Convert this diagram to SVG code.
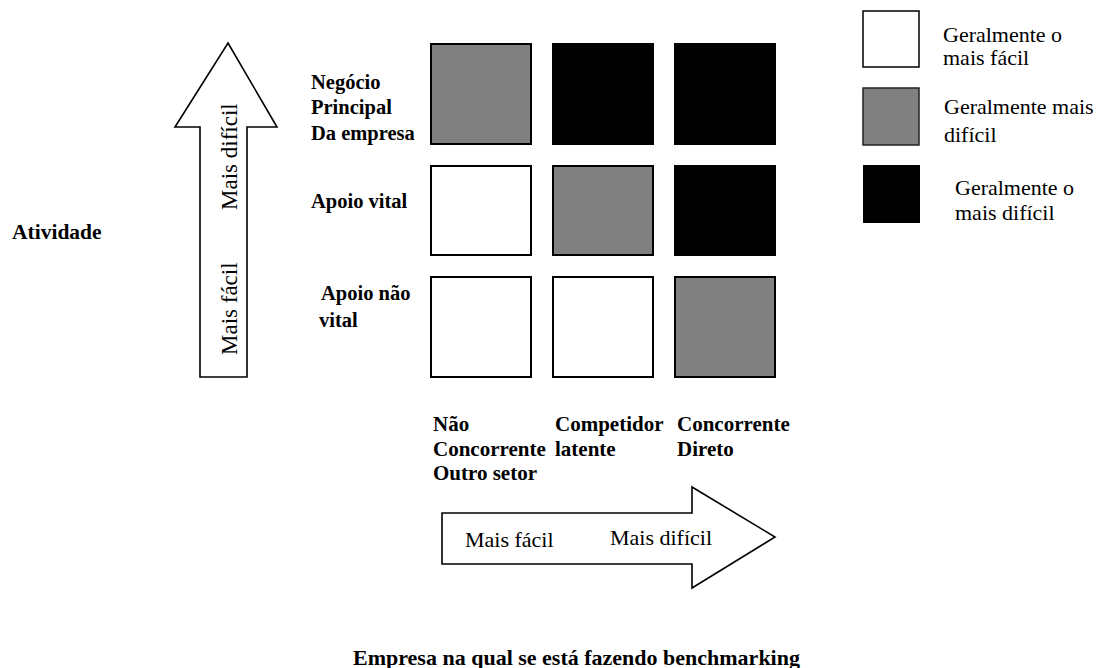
<svg xmlns="http://www.w3.org/2000/svg" width="1096" height="668" viewBox="0 0 1096 668">
<style>
.r{font-family:"Liberation Serif","Times New Roman",serif;font-size:22px;fill:#000}
.rl{font-family:"Liberation Serif","Times New Roman",serif;font-size:20.5px;font-weight:bold;fill:#000}
.b{font-family:"Liberation Serif","Times New Roman",serif;font-size:21px;font-weight:bold;fill:#000}
.arrow{fill:#fff;stroke:#000;stroke-width:1.6}
.w{fill:#fff;stroke:#000;stroke-width:2}
.g{fill:#808080;stroke:#000;stroke-width:2}
.k{fill:#000;stroke:none}
.lw{fill:#fff;stroke:#000;stroke-width:1.5}
.lg{fill:#808080;stroke:#222;stroke-width:1.5}
</style>
<rect width="1096" height="668" fill="#fff"/>
<g id="connectors">
<g id="arrow-vertical">
<polygon class="arrow" points="228,43 277,127 247,127 247,377 200,377 200,127 175,127"/>
<text class="r" style="font-size:23px" transform="translate(237,210) rotate(-90)">Mais difícil</text>
<text class="r" style="font-size:23px" transform="translate(237,355) rotate(-90)">Mais fácil</text>
</g>
<g id="arrow-horizontal">
<polygon class="arrow" points="442,513 692,513 692,487 775,537 692,588 692,564 442,564"/>
<text class="r" x="465" y="547">Mais fácil</text>
<text class="r" x="610" y="545">Mais difícil</text>
</g>
</g>
<g id="label-atividade"><text class="b" style="font-size:21.5px" x="12" y="239">Atividade</text></g>
<g id="row-labels">
<text class="rl" x="311" y="89">Negócio</text>
<text class="rl" x="311" y="114">Principal</text>
<text class="rl" x="311" y="140">Da empresa</text>
<text class="rl" x="311" y="208">Apoio vital</text>
<text class="rl" x="321" y="300">Apoio não</text>
<text class="rl" x="319" y="327">vital</text>
</g>
<g id="col-labels">
<text class="b" x="433" y="431">Não</text>
<text class="b" x="433" y="456">Concorrente</text>
<text class="b" x="433" y="480">Outro setor</text>
<text class="b" x="555" y="431">Competidor</text>
<text class="b" x="555" y="456">latente</text>
<text class="b" x="677" y="431">Concorrente</text>
<text class="b" x="677" y="456">Direto</text>
</g>
<g id="grid">
<rect id="c11" class="g" x="431" y="44" width="100" height="100"/>
<rect id="c12" class="k" x="552" y="43" width="102" height="102"/>
<rect id="c13" class="k" x="674" y="43" width="102" height="102"/>
<rect id="c21" class="w" x="431" y="166" width="100" height="89"/>
<rect id="c22" class="g" x="553" y="166" width="100" height="89"/>
<rect id="c23" class="k" x="674" y="165" width="102" height="91"/>
<rect id="c31" class="w" x="431" y="277" width="100" height="100"/>
<rect id="c32" class="w" x="553" y="277" width="100" height="100"/>
<rect id="c33" class="g" x="675" y="277" width="100" height="100"/>
</g>
<g id="legend">
<g id="legend-easy">
<rect class="lw" x="863" y="11" width="56" height="56"/>
<text class="r" x="943" y="42">Geralmente o</text>
<text class="r" x="943" y="65">mais fácil</text>
</g>
<g id="legend-harder">
<rect class="lg" x="863" y="88" width="56" height="57"/>
<text class="r" x="944" y="114">Geralmente mais</text>
<text class="r" x="944" y="142">difícil</text>
</g>
<g id="legend-hardest">
<rect class="k" x="863" y="165" width="57" height="58"/>
<text class="r" x="955" y="195">Geralmente o</text>
<text class="r" x="955" y="220">mais difícil</text>
</g>
</g>
<g id="title"><text class="b" style="font-size:22px" x="353" y="665">Empresa na qual se está fazendo benchmarking</text></g>
</svg>
